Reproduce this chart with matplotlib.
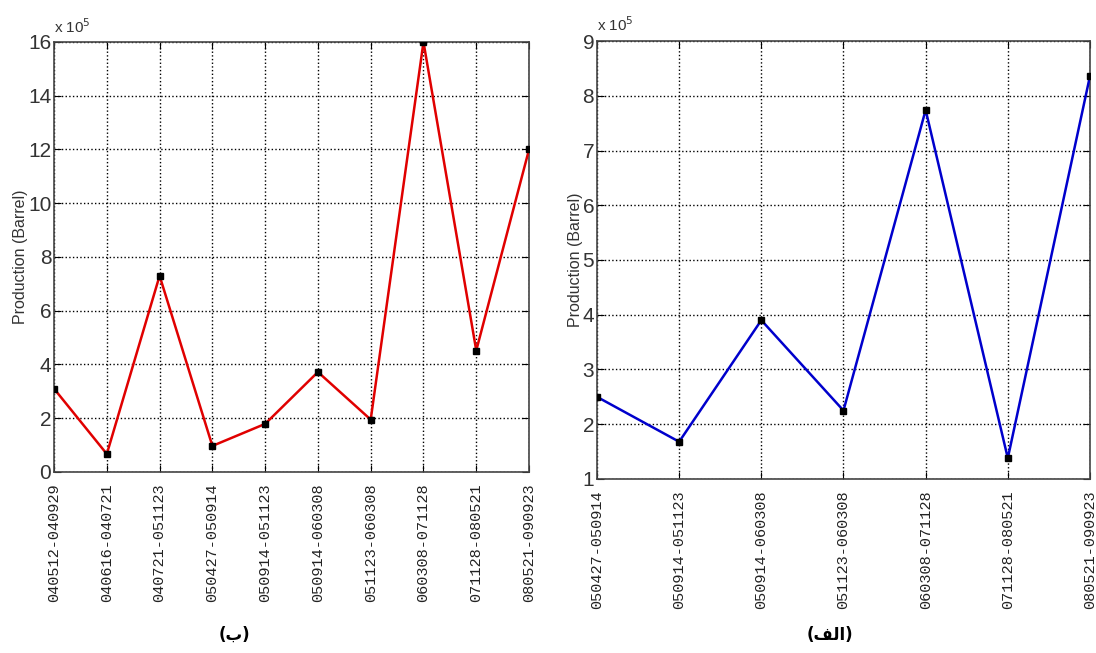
import matplotlib
matplotlib.use('Agg')
import matplotlib.pyplot as plt
from matplotlib.ticker import FuncFormatter

# production per interval (barrels)
periods_b = ['040512-040929', '040616-040721', '040721-051123', '050427-050914',
             '050914-051123', '050914-060308', '051123-060308', '060308-071128',
             '071128-080521', '080521-090923']
production_b = [310000, 67000, 730000, 97000, 179000, 372000, 195000, 1600000,
                452000, 1200000]

periods_a = ['050427-050914', '050914-051123', '050914-060308', '051123-060308',
             '060308-071128', '071128-080521', '080521-090923']
production_a = [250000, 168000, 390000, 225000, 774000, 138000, 836000]

yticks_b = [0, 2e5, 4e5, 6e5, 8e5, 10e5, 12e5, 14e5, 16e5]
yticks_a = [1e5, 2e5, 3e5, 4e5, 5e5, 6e5, 7e5, 8e5, 9e5]

TICK_FONT = ['Liberation Sans Narrow', 'Liberation Sans', 'DejaVu Sans']
XTICK_FONT = ['Liberation Mono', 'DejaVu Sans Mono']


def draw_panel(ax, periods, values, yticks, color):
    x = range(len(periods))
    ax.plot(x, values, color=color, lw=1.8, marker='s', ms=4.5,
            mfc='k', mec='k', zorder=3)
    ax.set_xlim(0, len(periods) - 1)
    ax.set_ylim(yticks[0], yticks[-1])
    ax.set_xticks(list(x))
    ax.set_xticklabels(periods, rotation=90, family=XTICK_FONT, fontsize=11,
                       color='#222222')
    ax.set_yticks(yticks)
    ax.yaxis.set_major_formatter(FuncFormatter(lambda v, p: f'{v / 1e5:g}'))
    for lbl in ax.get_yticklabels():
        lbl.set_family(TICK_FONT)
        lbl.set_fontsize(15)
        lbl.set_color('#333333')
    ax.tick_params(direction='in', length=5, top=True, right=True)
    ax.tick_params(axis='x', pad=8)
    ax.tick_params(axis='y', pad=2)
    ax.grid(True, ls=':', color='k', lw=1)
    for s in ax.spines.values():
        s.set_color('#444444')
        s.set_linewidth(1.2)
    ax.set_ylabel('Production (Barrel)', fontsize=11.5, color='#333333',
                  family=['Liberation Sans', 'DejaVu Sans'], labelpad=0)
    ax.text(0.0, 1.015, r'x 10$^5$', transform=ax.transAxes, fontsize=11,
            family=TICK_FONT, color='#333333', va='bottom', ha='left')


fig = plt.figure(figsize=(10.96, 6.53), dpi=100, facecolor='w')
ax_b = fig.add_axes([0.0493, 0.2772, 0.4334, 0.6585])
ax_a = fig.add_axes([0.5447, 0.2665, 0.4498, 0.6707])

draw_panel(ax_b, periods_b, production_b, yticks_b, '#e00000')
draw_panel(ax_a, periods_a, production_a, yticks_a, '#0000cc')

fig.text(0.214, 0.028, '(\u0628)', fontsize=12, fontweight='bold',
         family='DejaVu Sans', ha='center', va='center')
fig.text(0.757, 0.028, '(\ufed2\ufedf\ufe8d)', fontsize=12, fontweight='bold',
         family='DejaVu Sans', ha='center', va='center')

fig.savefig('out.png', dpi=100)
